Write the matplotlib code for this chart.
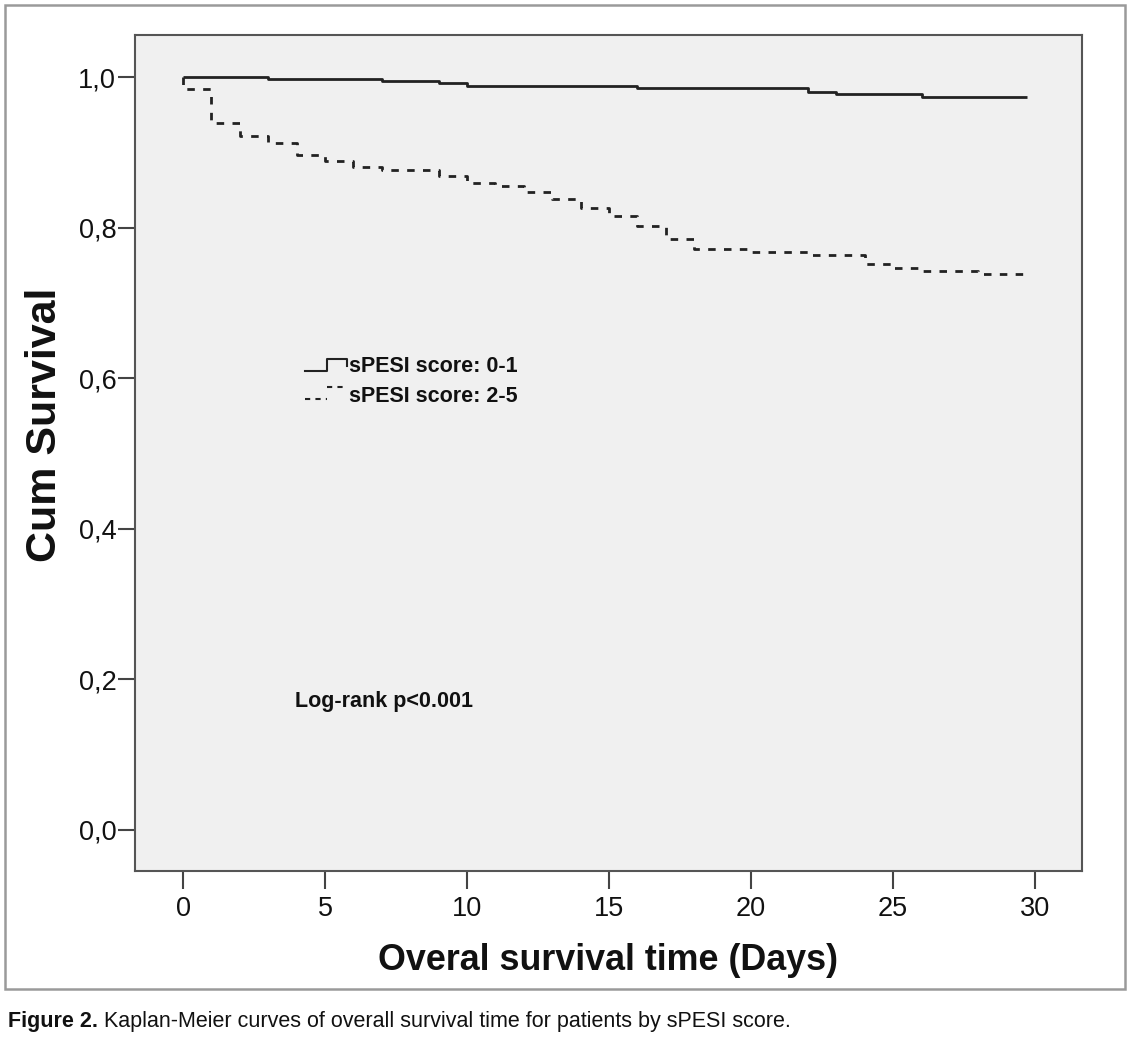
import matplotlib
matplotlib.use("Agg")
import matplotlib.pyplot as plt
from matplotlib.patches import Rectangle

# ---- data ----
low_times = [0, 3, 7, 9, 10, 16, 22, 23, 26, 29.7]
low_surv = [1.0, 0.997, 0.995, 0.992, 0.988, 0.985, 0.980, 0.977, 0.973, 0.973]

high_times = [0, 0, 1, 2, 3, 4, 5, 6, 7, 9, 10, 11, 12, 13, 14, 15, 16, 17, 18,
              20, 22, 24, 25, 26, 28, 29.7]
high_surv = [1.0, 0.984, 0.939, 0.922, 0.913, 0.896, 0.888, 0.880, 0.876, 0.868,
             0.859, 0.855, 0.847, 0.838, 0.826, 0.815, 0.802, 0.785, 0.771,
             0.767, 0.764, 0.752, 0.747, 0.743, 0.738, 0.738]

x_ticks = [0, 5, 10, 15, 20, 25, 30]
y_ticks = [0.0, 0.2, 0.4, 0.6, 0.8, 1.0]
y_tick_labels = ["0,0", "0,2", "0,4", "0,6", "0,8", "1,0"]
legend_labels = ["sPESI score: 0-1", "sPESI score: 2-5"]
x_label = "Overal survival time (Days)"
y_label = "Cum Survival"
annot = "Log-rank p<0.001"
caption_bold = "Figure 2."
caption_rest = " Kaplan-Meier curves of overall survival time for patients by sPESI score."

plt.rcParams['font.family'] = ['Liberation Sans', 'DejaVu Sans']

W, H = 1130, 1042
fig = plt.figure(figsize=(W / 100, H / 100), dpi=100)
fig.patch.set_facecolor('white')

# outer frame
fig.patches.append(Rectangle((5 / W, 1 - 989 / H), 1120 / W, 984 / H,
                             transform=fig.transFigure, fill=False,
                             edgecolor='#9a9a9a', linewidth=1.8, zorder=0))

ax = fig.add_axes([135 / W, 1 - 871 / H, (1082 - 135) / W, (871 - 35) / H])
ax.set_facecolor('#f0f0f0')
for s in ax.spines.values():
    s.set_color('#555555')
    s.set_linewidth(1.5)

line_col = '#222222'
ax.plot(low_times, low_surv, drawstyle='steps-post', color=line_col, lw=2.0,
        solid_capstyle='butt')
ax.plot(high_times, high_surv, drawstyle='steps-post', color=line_col, lw=2.0,
        linestyle=(0, (2.7, 3.0)), dash_capstyle='butt')

ax.set_xlim(-1.69, 31.65)
ax.set_ylim(-0.0545, 1.0558)
ax.set_xticks(x_ticks)
ax.set_yticks(y_ticks)
ax.set_yticklabels(y_tick_labels)
ax.tick_params(axis='both', direction='out', color='#444444', width=1.5,
               labelsize=19.5, labelcolor='#111111')
ax.tick_params(axis='x', length=13, pad=5)
ax.tick_params(axis='y', length=12.5, pad=1)

ax.set_xlabel(x_label, fontsize=25.8, fontweight='bold', color='#111111')
ax.set_ylabel(y_label, fontsize=31, fontweight='bold', color='#111111')
# label centres in axes fraction
ax.xaxis.set_label_coords((608 - 135) / (1082 - 135), (871 - 961) / (871 - 35))
ax.yaxis.set_label_coords((45 - 135) / (1082 - 135), (871 - 425) / (871 - 35))
ax.xaxis.label.set_va('center')
ax.yaxis.label.set_va('center')

# legend drawn SPSS-style with step samples
tr = ax.transAxes
def ax_xy(px, py):
    return ((px - 135) / (1082 - 135), (871 - py) / (871 - 35))

p = [ax_xy(305, 371), ax_xy(327, 371), ax_xy(327, 359), ax_xy(347, 359), ax_xy(347, 366)]
ax.plot([q[0] for q in p], [q[1] for q in p], color=line_col, lw=1.5, transform=tr,
        clip_on=False)
p2 = [ax_xy(305, 399), ax_xy(327, 399), ax_xy(327, 387), ax_xy(347, 387)]
ax.plot([p2[0][0], p2[1][0]], [p2[0][1], p2[1][1]], color=line_col, lw=1.5,
        linestyle=(0, (2.5, 2.5)), transform=tr)
ax.plot([p2[2][0], p2[3][0]], [p2[2][1], p2[3][1]], color=line_col, lw=1.5,
        linestyle=(0, (2.5, 2.5)), transform=tr)

lx, ly1 = ax_xy(349, 367)
_, ly2 = ax_xy(349, 396)
ax.text(lx, ly1, legend_labels[0], transform=tr, fontsize=15.5, fontweight='bold',
        va='center', ha='left', color='#111111')
ax.text(lx, ly2, legend_labels[1], transform=tr, fontsize=15.5, fontweight='bold',
        va='center', ha='left', color='#111111')

tx, ty = ax_xy(295, 702)
ax.text(tx, ty, annot, transform=tr, fontsize=15.5, fontweight='bold',
        va='center', ha='left', color='#111111')

# caption
t1 = fig.text(8 / W, 1 - 1032 / H, caption_bold, fontsize=15.5, fontweight='bold',
              va='bottom', ha='left', color='#111111')
ax.annotate(caption_rest, xy=(1, 0), xycoords=t1, fontsize=15.5,
            va='bottom', ha='left', color='#111111', annotation_clip=False)

fig.savefig("out.png", dpi=100, facecolor='white')
